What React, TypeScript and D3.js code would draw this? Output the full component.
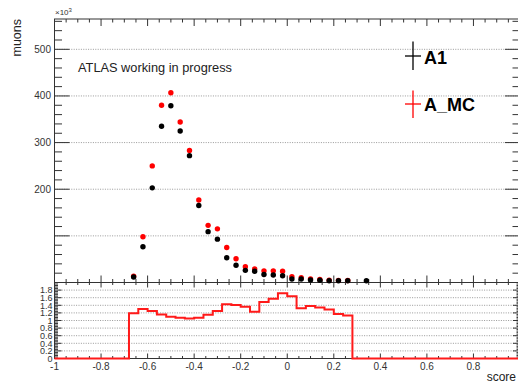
import React from "react";
import * as d3 from "d3";

// ---- data (values in units of 10^3 muons) ----
const scoreBins = [-0.66, -0.62, -0.58, -0.54, -0.5, -0.46, -0.42, -0.38, -0.34, -0.3, -0.26, -0.22, -0.18, -0.14, -0.1, -0.06, -0.02, 0.02, 0.06, 0.1, 0.14, 0.18, 0.22, 0.26, 0.3, 0.34];
const a1Values = [11.8, 76.7, 203, 335, 379, 325, 272, 165, 109, 93, 53, 37, 26, 24, 17, 16, 14.6, 7.5, 7.5, 5.4, 4.7, 3.9, 3.9, 3.9, null, 3.6];
const amcValues = [13.3, 98, 250, 380, 407, 344, 283, 177, 122.5, 115, 75, 51, 34, 29, 25, 25, 24, 12.4, 10.3, 7.4, 6.3, 5.0, 4.5, 4.4, null, null];
// ratio histogram (bin width 0.04), bins centred on ratioBins; zero elsewhere
const ratioBins = [-0.66, -0.62, -0.58, -0.54, -0.5, -0.46, -0.42, -0.38, -0.34, -0.3, -0.26, -0.22, -0.18, -0.14, -0.1, -0.06, -0.02, 0.02, 0.06, 0.1, 0.14, 0.18, 0.22, 0.26];
const ratioValues = [1.19, 1.3, 1.25, 1.16, 1.1, 1.07, 1.05, 1.07, 1.15, 1.25, 1.43, 1.41, 1.36, 1.23, 1.49, 1.57, 1.72, 1.64, 1.32, 1.38, 1.34, 1.29, 1.17, 1.13];
const binWidth = 0.04;

const mainYTickValues = [200, 300, 400, 500];
const mainYTickLabels = ["200", "300", "400", "500"];
const ratioYTickValues = [0, 0.2, 0.4, 0.6, 0.8, 1, 1.2, 1.4, 1.6, 1.8];
const ratioYTickLabels = ["0", "0.2", "0.4", "0.6", "0.8", "1", "1.2", "1.4", "1.6", "1.8"];
const xTickValues = [-1, -0.8, -0.6, -0.4, -0.2, 0, 0.2, 0.4, 0.6, 0.8];
const xTickLabels = ["-1", "-0.8", "-0.6", "-0.4", "-0.2", "0", "0.2", "0.4", "0.6", "0.8"];
const seriesNames = ["A1", "A_MC"];

const FONT = "'Liberation Sans', Arial, Helvetica, sans-serif";
const W = 518, H = 383;
const L = 54.5, R = 520, TOP = 19, MID = 282.5, BOT = 358.5;

const x = d3.scaleLinear().domain([-1, 1]).range([L, R]);
const y = d3.scaleLinear().domain([0, 565]).range([MID, TOP]);
const yr = d3.scaleLinear().domain([0, 2]).range([BOT, MID]);

const AX = "#333";
const GRID = "#999";

function range(a: number, b: number, s: number) {
  const out: number[] = [];
  for (let i = 0; a + i * s <= b + 1e-9; i++) out.push(+(a + i * s).toFixed(6));
  return out;
}
const isMult = (v: number, s: number) => Math.abs(v / s - Math.round(v / s)) < 1e-6;

export default function App() {
  // ratio step path
  const stepPts: [number, number][] = [[-1, 0]];
  ratioBins.forEach((c, i) => {
    const lo = c - binWidth / 2, hi = c + binWidth / 2;
    if (i === 0) stepPts.push([lo, 0]);
    stepPts.push([lo, ratioValues[i]]);
    stepPts.push([hi, ratioValues[i]]);
    if (i === ratioBins.length - 1) stepPts.push([hi, 0]);
  });
  stepPts.push([1, 0]);
  const ratioPath = d3.line<[number, number]>().x(d => x(d[0])).y(d => yr(d[1]))(stepPts) || "";

  const xMinor = range(-1, 1, 0.05);
  const mainYMinor = range(0, 560, 20);
  const ratioYMinor = range(0, 2, 0.04);

  return (
    <svg width={W} height={H} style={{ position: "absolute", left: 0, top: 0, background: "#fff" }} fontFamily={FONT}>
      <rect x={0} y={0} width={W} height={H} fill="#fff" />
      {/* main grid */}
      {range(100, 500, 100).map(v => (
        <line key={"g" + v} x1={L} x2={R} y1={y(v)} y2={y(v)} stroke={GRID} strokeWidth={1} strokeDasharray="1 1.4" />
      ))}
      {/* ratio grid */}
      {range(0.2, 1.8, 0.2).map(v => (
        <line key={"rg" + v} x1={L} x2={R} y1={yr(v)} y2={yr(v)} stroke={GRID} strokeWidth={1} strokeDasharray="1 1.4" />
      ))}

      {/* main frame */}
      <rect x={L} y={TOP} width={R - L} height={MID - TOP} fill="none" stroke={AX} strokeWidth={1} />
      {/* ratio frame */}
      <rect x={L} y={MID} width={R - L} height={BOT - MID} fill="none" stroke={AX} strokeWidth={1} />

      {/* main y ticks */}
      {mainYMinor.map(v => {
        const len = isMult(v, 100) ? 15 : 7.5;
        return (
          <g key={"my" + v}>
            <line x1={L} x2={L + len} y1={y(v)} y2={y(v)} stroke={AX} />
            <line x1={R} x2={R - len} y1={y(v)} y2={y(v)} stroke={AX} />
          </g>
        );
      })}
      {/* main x ticks (top & bottom) */}
      {xMinor.map(v => {
        const len = isMult(v, 0.2) ? 7 : 3.5;
        return (
          <g key={"mx" + v}>
            <line x1={x(v)} x2={x(v)} y1={MID} y2={MID - len} stroke={AX} />
            <line x1={x(v)} x2={x(v)} y1={TOP} y2={TOP + len} stroke={AX} />
          </g>
        );
      })}
      {/* ratio y ticks */}
      {ratioYMinor.map(v => {
        const len = isMult(v, 0.2) ? 7 : 3.5;
        return (
          <g key={"ry" + v}>
            <line x1={L} x2={L + len} y1={yr(v)} y2={yr(v)} stroke={AX} />
            <line x1={R} x2={R - len} y1={yr(v)} y2={yr(v)} stroke={AX} />
          </g>
        );
      })}
      {/* ratio x ticks */}
      {xMinor.map(v => {
        const len = isMult(v, 0.2) ? 5 : 2.5;
        return (
          <g key={"rx" + v}>
            <line x1={x(v)} x2={x(v)} y1={BOT} y2={BOT - len} stroke={AX} />
            <line x1={x(v)} x2={x(v)} y1={MID} y2={MID + len} stroke={AX} />
          </g>
        );
      })}

      {/* main y labels */}
      {mainYTickValues.map((v, i) => (
        <text key={"myl" + v} x={51} y={y(v) + 3.5} fontSize={10} textAnchor="end" fill="#333">{mainYTickLabels[i]}</text>
      ))}
      <text x={55} y={15} fontSize={8} fill="#333">×10<tspan dy={-3} fontSize={6}>3</tspan></text>
      <text transform={`translate(21,19) rotate(-90)`} fontSize={12.5} textAnchor="end" fill="#222">muons</text>

      {/* ratio y labels */}
      {ratioYTickValues.map((v, i) => (
        <text key={"ryl" + v} x={52.5} y={yr(v) + 3.2} fontSize={9} textAnchor="end" fill="#333">{ratioYTickLabels[i]}</text>
      ))}
      {/* x labels */}
      {xTickValues.map((v, i) => (
        <text key={"xl" + v} x={x(v)} y={369.5} fontSize={10} textAnchor="middle" fill="#333">{xTickLabels[i]}</text>
      ))}
      <text x={516} y={381} fontSize={12} textAnchor="end" fill="#222">score</text>

      {/* ATLAS label */}
      <text x={78} y={72} fontSize={13} fill="#222" textLength={154} lengthAdjust="spacingAndGlyphs">ATLAS working in progress</text>

      {/* data points: red first, black on top */}
      {scoreBins.map((c, i) => amcValues[i] == null ? null : (
        <circle key={"r" + i} cx={x(c)} cy={y(amcValues[i] as number)} r={2.7} fill="#ff0000" />
      ))}
      {scoreBins.map((c, i) => a1Values[i] == null ? null : (
        <circle key={"b" + i} cx={x(c)} cy={y(a1Values[i] as number)} r={2.7} fill="#000" />
      ))}

      {/* ratio histogram */}
      <path d={ratioPath} fill="none" stroke="#ff1a1a" strokeWidth={2} />

      {/* legend */}
      <g>
        <line x1={405} x2={421} y1={56} y2={56} stroke="#000" strokeWidth={1.3} />
        <line x1={413} x2={413} y1={41.5} y2={70} stroke="#000" strokeWidth={1.3} />
        <text x={424} y={64} fontSize={18} fontWeight="bold" fill="#000">{seriesNames[0]}</text>
        <line x1={405} x2={421} y1={104} y2={104} stroke="#ff0000" strokeWidth={1.3} />
        <line x1={413} x2={413} y1={90.5} y2={118} stroke="#ff0000" strokeWidth={1.3} />
        <text x={424} y={111} fontSize={18} fontWeight="bold" fill="#000">{seriesNames[1]}</text>
      </g>
    </svg>
  );
}
